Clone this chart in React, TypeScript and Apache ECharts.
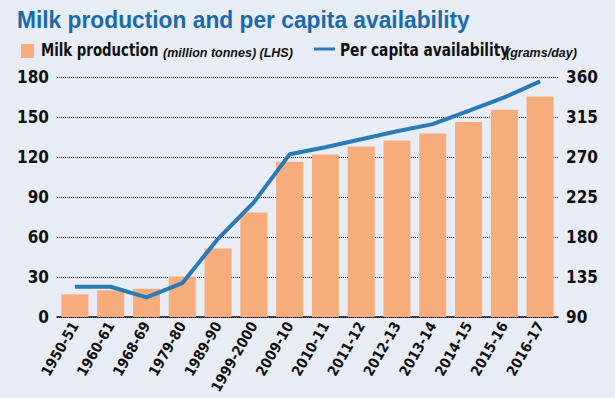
import React, { useEffect, useRef } from "react";
import * as echarts from "echarts";

const categories = ["1950-51", "1960-61", "1968-69", "1979-80", "1989-90", "1999-2000", "2009-10", "2010-11", "2011-12", "2012-13", "2013-14", "2014-15", "2015-16", "2016-17"];
const milkProduction = [17, 20, 21.2, 30.4, 51.4, 78.3, 116.4, 121.8, 127.9, 132.4, 137.7, 146.3, 155.5, 165.4];
const perCapita = [124, 124, 112, 128, 178, 219, 273, 281, 290, 299, 307, 322, 337, 355];
const leftTicks = { min: 0, max: 180, interval: 30 };
const rightTicks = { min: 90, max: 360, interval: 45 };

const FONT = '"Liberation Sans Narrow", "DejaVu Sans Condensed", "Roboto", sans-serif';
const WFONT = '"Liberation Sans", "DejaVu Sans", sans-serif';

export default function App() {
  const ref = useRef<HTMLDivElement>(null);
  useEffect(() => {
    const chart = echarts.init(ref.current!, null, { renderer: "svg" });
    chart.setOption({
      animation: false,
      backgroundColor: "#e8ecf5",
      textStyle: { fontFamily: FONT },
      grid: { left: 57, right: 57, top: 77, bottom: 81 },
      graphic: [
        {
          type: "text", x: 17, y: 8, scaleX: 0.99,
          style: { text: "Milk production and per capita availability", font: 'bold 23px ' + WFONT, fill: "#1b6aab" },
        },
        { type: "rect", shape: { x: 21, y: 44, width: 13, height: 14 }, style: { fill: "#f6ad7b" } },
        {
          type: "text", x: 41, y: 42, scaleX: 0.87,
          style: { text: "Milk production", font: 'bold 17px ' + FONT, fill: "#111" },
        },
        {
          type: "text", x: 163, y: 46,
          style: { text: "(million tonnes) (LHS)", font: 'italic bold 12.5px ' + WFONT, fill: "#111" },
        },
        { type: "line", shape: { x1: 314, y1: 49, x2: 335, y2: 49 }, style: { stroke: "#2a7ab8", lineWidth: 3 } },
        {
          type: "text", x: 340, y: 42, scaleX: 0.9,
          style: { text: "Per capita availability", font: 'bold 17px ' + FONT, fill: "#111" },
        },
        {
          type: "text", x: 506, y: 46,
          style: { text: "(grams/day)", font: 'italic bold 12.5px ' + WFONT, fill: "#111" },
        },
      ],
      xAxis: {
        type: "category",
        data: categories,
        axisTick: { show: false },
        axisLine: { lineStyle: { color: "#111", width: 1.5 } },
        axisLabel: { rotate: 60, interval: 0, fontSize: 14.5, fontWeight: "bold", color: "#111", margin: 6, fontFamily: FONT },
      },
      yAxis: [
        {
          type: "value", ...leftTicks,
          axisLine: { show: false }, axisTick: { show: false },
          axisLabel: { fontSize: 17, fontWeight: "bold", color: "#111", margin: 8, fontFamily: FONT },
          splitLine: { lineStyle: { type: "dotted", color: "#222", width: 1 } },
        },
        {
          type: "value", ...rightTicks,
          axisLine: { show: false }, axisTick: { show: false },
          axisLabel: { fontSize: 17, fontWeight: "bold", color: "#111", margin: 8, fontFamily: FONT },
          splitLine: { show: false },
        },
      ],
      series: [
        {
          type: "bar", data: milkProduction, barWidth: 27, yAxisIndex: 0,
          itemStyle: { color: "#f6ad7b" },
        },
        {
          type: "line", data: perCapita, yAxisIndex: 1, symbol: "none",
          lineStyle: { color: "#2a7ab8", width: 4 },
        },
      ],
    });
    return () => chart.dispose();
  }, []);
  return <div ref={ref} style={{ position: "fixed", left: 0, top: 0, width: 615, height: 398 }} />;
}
